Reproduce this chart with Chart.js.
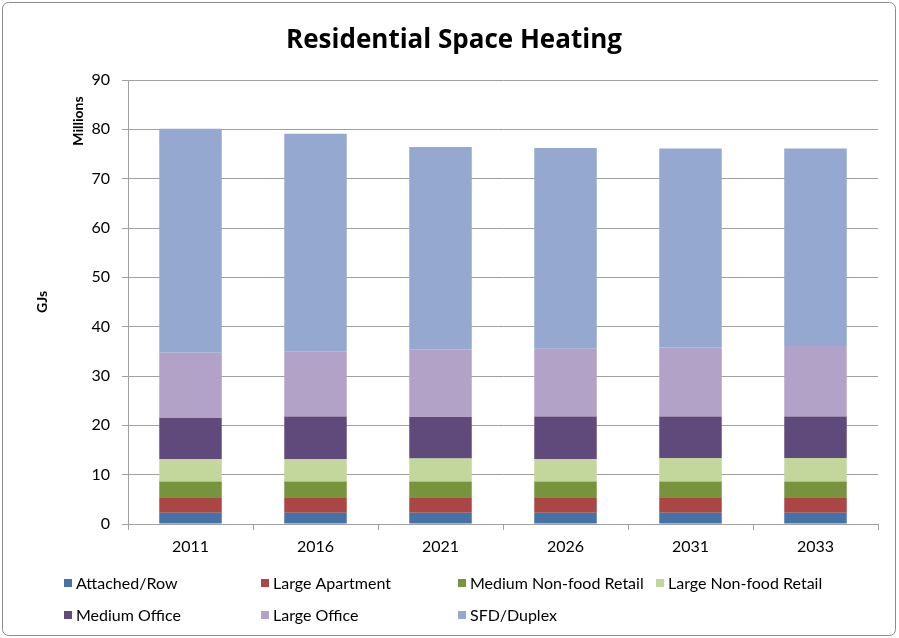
<!DOCTYPE html>
<html>
<head>
<meta charset="utf-8">
<script src="https://cdn.jsdelivr.net/npm/chart.js@4/dist/chart.umd.min.js"></script>
<style>
html,body{margin:0;padding:0;background:#fff;}
#wrap{width:899px;height:638px;position:relative;}
</style>
</head>
<body>
<div id="wrap"><canvas id="c" width="899" height="638"></canvas></div>
<script>
const categories = ["2011", "2016", "2021", "2026", "2031", "2033"];
const seriesNames = ["Attached/Row", "Large Apartment", "Medium Non-food Retail", "Large Non-food Retail", "Medium Office", "Large Office", "SFD/Duplex"];
const attachedRow = [2.3, 2.3, 2.3, 2.3, 2.3, 2.3];
const largeApartment = [3.1, 3.1, 3.1, 3.1, 3.1, 3.1];
const mediumNonFoodRetail = [3.2, 3.2, 3.2, 3.2, 3.2, 3.2];
const largeNonFoodRetail = [4.6, 4.6, 4.7, 4.6, 4.8, 4.8];
const mediumOffice = [8.3, 8.6, 8.4, 8.6, 8.4, 8.4];
const largeOffice = [13.2, 13.1, 13.7, 13.7, 14.0, 14.3];
const sfdDuplex = [45.4, 44.2, 41.0, 40.7, 40.3, 40.0];
const yTicks = [0, 10, 20, 30, 40, 50, 60, 70, 80, 90];
const colors = ["#4572A7", "#AA4643", "#77933C", "#C3D69B", "#604A7B", "#B3A2C7", "#95A9D0"];

const seriesValues = [attachedRow, largeApartment, mediumNonFoodRetail, largeNonFoodRetail, mediumOffice, largeOffice, sfdDuplex];
const FONT = "Lato, 'Liberation Sans', sans-serif";
const GRID = "#a0a0a0";

const decor = {
  id: "decor",
  beforeDraw(chart) {
    const ctx = chart.ctx;
    ctx.save();
    ctx.fillStyle = "#fff";
    ctx.fillRect(0, 0, chart.width, chart.height);
    ctx.strokeStyle = "#8c8c8c";
    ctx.lineWidth = 1;
    const r = 6, x = 2.5, y = 2.5, w = 893, h = 633;
    ctx.beginPath();
    ctx.moveTo(x + r, y);
    ctx.arcTo(x + w, y, x + w, y + h, r);
    ctx.arcTo(x + w, y + h, x, y + h, r);
    ctx.arcTo(x, y + h, x, y, r);
    ctx.arcTo(x, y, x + w, y, r);
    ctx.closePath();
    ctx.stroke();
    ctx.restore();
  },
  afterDraw(chart) {
    const ctx = chart.ctx;
    ctx.save();
    ctx.fillStyle = "#000";
    // Title
    ctx.font = "bold 26px 'Open Sans', " + FONT;
    ctx.textAlign = "center";
    ctx.textBaseline = "middle";
    ctx.fillText("Residential Space Heating", 454, 41);
    // Axis title and units label
    ctx.font = "bold 14px " + FONT;
    ctx.save();
    ctx.translate(42, 302);
    ctx.rotate(-Math.PI / 2);
    ctx.fillText("GJs", 0, 0);
    ctx.restore();
    ctx.save();
    ctx.translate(78, 121);
    ctx.rotate(-Math.PI / 2);
    ctx.fillText("Millions", 0, 0);
    ctx.restore();
    // Legend
    const cols = [64, 261, 458, 656];
    const rows = [583, 615];
    ctx.font = "16px " + FONT;
    ctx.textAlign = "left";
    chart.data.datasets.forEach((ds, i) => {
      const col = i < 4 ? cols[i] : cols[i - 4];
      const row = i < 4 ? rows[0] : rows[1];
      ctx.fillStyle = ds.backgroundColor;
      ctx.fillRect(col, row - 4, 8, 8);
      ctx.fillStyle = "#000";
      ctx.fillText(ds.label, col + 12, row + 1);
    });
    ctx.restore();
  }
};

new Chart(document.getElementById("c"), {
  type: "bar",
  data: {
    labels: categories,
    datasets: seriesNames.map((name, i) => ({
      label: name,
      data: seriesValues[i],
      backgroundColor: colors[i],
      borderWidth: 0,
      categoryPercentage: 1,
      barPercentage: 0.5
    }))
  },
  options: {
    responsive: false,
    animation: false,
    layout: { padding: { left: 0, right: 21, top: 80, bottom: 74 } },
    plugins: { legend: { display: false }, title: { display: false }, tooltip: { enabled: false } },
    scales: {
      x: {
        stacked: true,
        afterFit(s) { s.height = 40; },
        grid: { display: true, drawOnChartArea: false, drawTicks: true, tickLength: 6, color: GRID, offset: true },
        border: { display: true, color: GRID, width: 1 },
        ticks: { color: "#000", font: { family: FONT, size: 16 }, padding: 7 }
      },
      y: {
        stacked: true,
        min: 0,
        max: 90,
        afterFit(s) { s.width = 128; },
        afterBuildTicks(s) { s.ticks = yTicks.map(v => ({ value: v })); },
        grid: { color: GRID, drawTicks: true, tickLength: 6 },
        border: { display: true, color: GRID, width: 1 },
        ticks: { color: "#000", font: { family: FONT, size: 16 }, padding: 12 }
      }
    }
  },
  plugins: [decor]
});
</script>
</body>
</html>
